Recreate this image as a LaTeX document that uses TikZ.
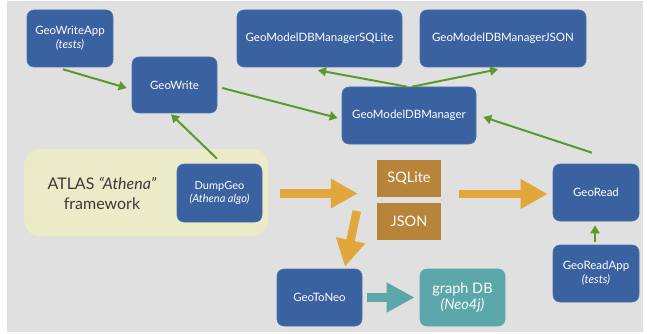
\documentclass[tikz,border=0pt]{standalone}
\usepackage{fontspec}
\setmainfont{Lato}
\usetikzlibrary{arrows.meta}
\definecolor{bg}{HTML}{E0E0E0}
\definecolor{boxblue}{HTML}{3B62A0}
\definecolor{boxedge}{HTML}{4A72B0}
\definecolor{grn}{HTML}{5A9A2B}
\definecolor{orng}{HTML}{E1A73C}
\definecolor{brn}{HTML}{B8843A}
\definecolor{teal1}{HTML}{5CA7AA}
\definecolor{yell}{HTML}{EBEBC8}
\definecolor{txtgray}{HTML}{3A3A3A}
\tikzset{
  bluebox/.style={fill=boxblue, draw=boxedge, line width=0.6pt, rounded corners=7pt, text=white,
    minimum width=#1, minimum height=57pt, align=center, inner sep=0pt,
    font=\fontsize{11.5}{14}\selectfont},
  bluebox/.default=86pt,
  fmtbox/.style={fill=brn, text=white, minimum width=64pt, minimum height=37pt, inner sep=0pt,
    font=\fontsize{14.5}{16}\selectfont},
  garrow/.style={draw=grn, line width=2pt, -{Triangle[length=8pt,width=9pt]}},
  oarrow/.style={draw=orng, line width=8.5pt, -{Triangle[length=27pt,width=28pt]}},
  tarrow/.style={draw=teal1, line width=8.5pt, -{Triangle[length=28pt,width=28pt]}},
}
\begin{document}
\begin{tikzpicture}[x=1pt,y=-1pt]
\useasboundingbox (0,0) rectangle (647,334);
\fill[white] (0,0) rectangle (647,334);
\fill[bg] (7,1) rectangle (643,332);

% framework
\node[fill=yell, rounded corners=16pt, minimum width=244pt, minimum height=87pt, inner sep=0pt] (fw) at (146,192.5) {};
\node[text=txtgray, align=center, font=\fontsize{16}{20}\selectfont] (fwtext) at (102,193) {ATLAS \textit{``Athena''}\\framework};

% blue boxes
\node[bluebox] (gwa) at (70,38.5) {GeoWriteApp\\\textit{(tests)}};
\node[bluebox=85pt, minimum height=56pt] (gw) at (174.5,85) {GeoWrite};
\node[bluebox=165pt] (sqlm) at (319.5,38.5) {GeoModelDBManagerSQLite};
\node[bluebox=166pt] (jsonm) at (503,38.5) {GeoModelDBManagerJSON};
\node[bluebox=134pt] (gmdb) at (409,115.5) {GeoModelDBManager};
\node[bluebox=85pt, minimum height=58pt, font=\fontsize{11}{13.5}\selectfont] (dump) at (219.5,193) {DumpGeo\\\textit{(Athena algo)}};
\node[bluebox] (gr) at (596,192.5) {GeoRead};
\node[bluebox] (gra) at (596,273.5) {GeoReadApp\\\textit{(tests)}};
\node[bluebox=85pt] (gtn) at (319.5,297.5) {GeoToNeo};
\node[bluebox=85pt, fill=teal1, draw=teal1, font=\fontsize{14.5}{16.5}\selectfont] (gdb) at (462.5,297.5) {graph DB\\\textit{(Neo4j)}};

% format boxes
\node[fmtbox] (sqlite) at (409,178.5) {SQLite};
\node[fmtbox] (json) at (409,221.5) {JSON};

% green arrows
\draw[garrow] ([shift={(-7,2)}]gwa.south) -- ([shift={(-5,3)}]gw.west);
\draw[garrow] ([shift={(-2.5,-5)}]dump.north) -- ([shift={(-3.5,1)}]gw.south);
\draw[garrow] ([shift={(5,3)}]gw.east) -- ([shift={(-4,2.5)}]gmdb.west);
\draw[garrow] ([shift={(-2,0)}]gmdb.north) -- ([shift={(-1.5,3)}]sqlm.south);
\draw[garrow] ([shift={(3,0)}]gmdb.north) -- ([shift={(-5,2)}]jsonm.south);
\draw[garrow] ([shift={(-4,-11)}]gr.north) -- ([shift={(7,1.5)}]gmdb.east);
\draw[garrow] ([shift={(-1,-3)}]gra.north) -- ([shift={(-1,4)}]gr.south);

% orange arrows
\draw[oarrow] ([shift={(18,0.5)}]dump.east) -- ([shift={(-19,15)}]sqlite.west);
\draw[oarrow] ([shift={(18,15.5)}]sqlite.east) -- ([shift={(-5,1.5)}]gr.west);
\draw[oarrow] ([shift={(-20,-10.5)}]json.west) -- ([shift={(25.5,-2)}]gtn.north);
% teal arrow
\draw[tarrow] ([shift={(5,0)}]gtn.east) -- ([shift={(-5,0)}]gdb.west);
\end{tikzpicture}
\end{document}
